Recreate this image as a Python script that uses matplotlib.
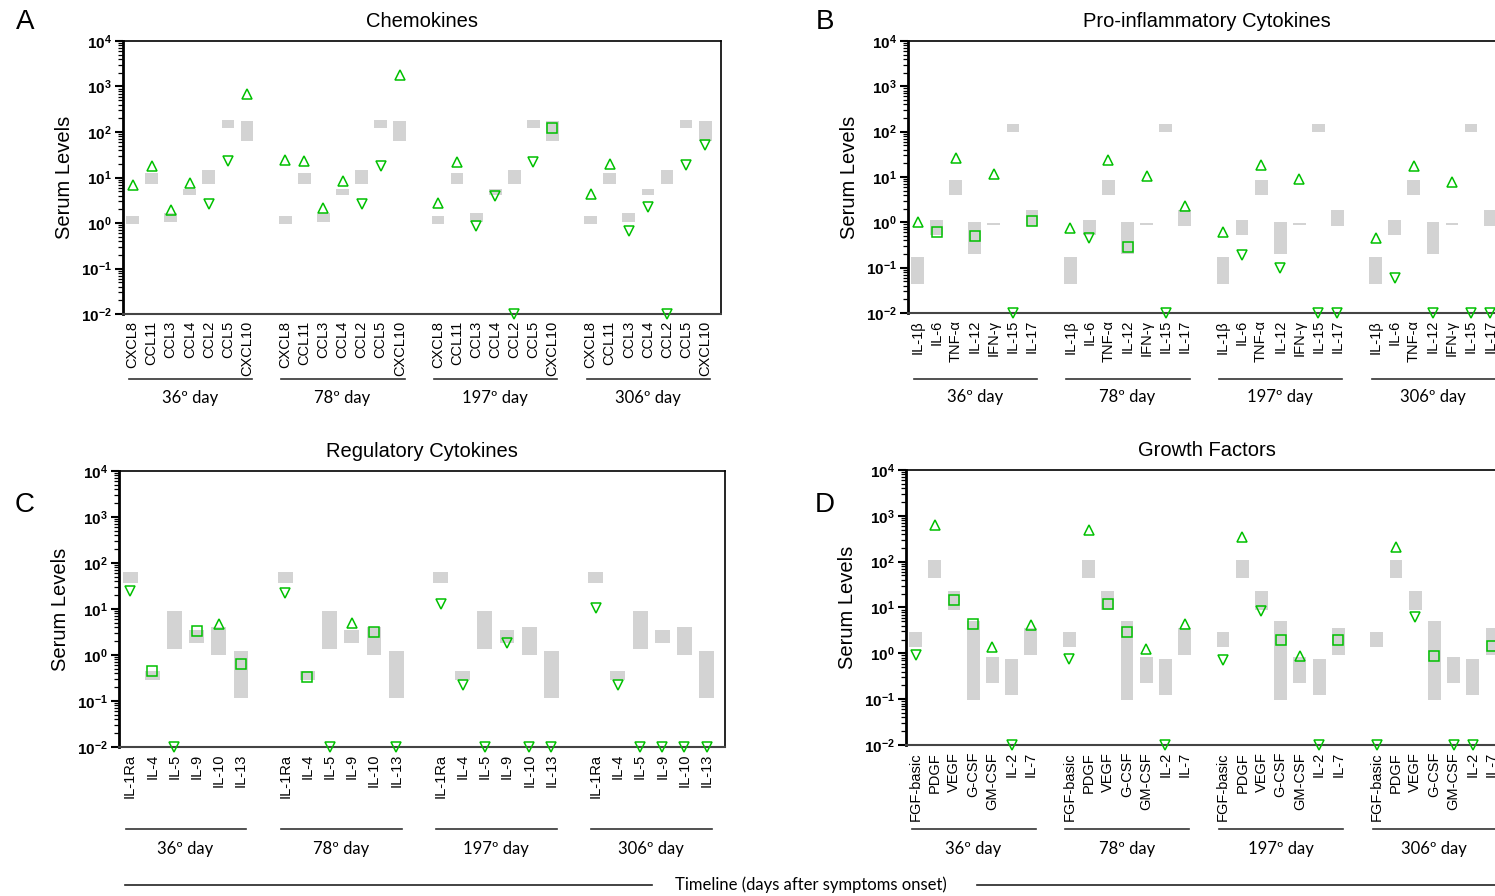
import math
import matplotlib
matplotlib.use('Agg')
import matplotlib.pyplot as plt
import matplotlib.transforms as mtransforms
from matplotlib.lines import Line2D
from matplotlib.ticker import LogLocator, FuncFormatter, NullFormatter

plt.rcParams['font.family'] = ['Liberation Sans', 'DejaVu Sans']
plt.rcParams['mathtext.fontset'] = 'custom'
plt.rcParams['mathtext.rm'] = 'Liberation Sans'
plt.rcParams['mathtext.bf'] = 'Liberation Sans:bold'

days = ['36º day', '78º day', '197º day', '306º day']

# A - chemokines (grey bar = reference range, markers = patient values)
chemokines = ['CXCL8', 'CCL11', 'CCL3', 'CCL4', 'CCL2', 'CCL5', 'CXCL10']
chemo_low = [0.95, 7.3, 1.05, 4.2, 7.3, 124, 64]
chemo_high = [1.43, 12.8, 1.63, 5.6, 14.6, 182, 174]
chemo_36 = [6.8, 17.6, 1.93, 7.4, 2.6, 22.7, 694]
chemo_78 = [23.8, 23, 2.1, 8.2, 2.6, 18.2, 1820]
chemo_197 = [2.7, 21.5, 0.85, 3.9, 0.01, 22.3, 122]
chemo_306 = [4.4, 20, 0.66, 2.2, 0.01, 18.5, 51]

# B - pro-inflammatory cytokines
pro = ['IL-1β', 'IL-6', 'TNF-α', 'IL-12', 'IFN-γ', 'IL-15', 'IL-17']
pro_low = [0.043, 0.53, 4.1, 0.2, 0.86, 96, 0.82]
pro_high = [0.17, 1.15, 8.7, 1.0, 0.98, 149, 1.9]
pro_36 = [1.0, 0.61, 25.6, 0.51, 11.8, 0.01, 1.07]
pro_78 = [0.74, 0.44, 23.6, 0.28, 10.3, 0.01, 2.3]
pro_197 = [0.62, 0.19, 18, 0.10, 8.9, 0.01, 0.01]
pro_306 = [0.44, 0.06, 17.4, 0.01, 7.6, 0.01, 0.01]

# C - regulatory cytokines
reg = ['IL-1Ra', 'IL-4', 'IL-5', 'IL-9', 'IL-10', 'IL-13']
reg_low = [36.7, 0.29, 1.35, 1.85, 1.0, 0.116]
reg_high = [62.7, 0.46, 8.9, 3.5, 4.0, 1.2]
reg_36 = [24.2, 0.44, 0.01, 3.3, 4.8, 0.64]
reg_78 = [21.9, 0.34, 0.01, 4.9, 3.2, 0.01]
reg_197 = [12.8, 0.22, 0.01, 1.8, 0.01, 0.01]
reg_306 = [10.3, 0.22, 0.01, 0.01, 0.01, 0.01]

# D - growth factors
growth = ['FGF-basic', 'PDGF', 'VEGF', 'G-CSF', 'GM-CSF', 'IL-2', 'IL-7']
growth_low = [1.37, 44, 8.8, 0.096, 0.225, 0.123, 0.92]
growth_high = [2.9, 108.6, 22.9, 5.1, 0.83, 0.75, 3.5]
growth_36 = [0.94, 641, 14.6, 4.3, 1.4, 0.01, 4.15]
growth_78 = [0.77, 480, 11.9, 2.87, 1.24, 0.01, 4.3]
growth_197 = [0.70, 351, 8.3, 1.95, 0.87, 0.01, 2.0]
growth_306 = [0.01, 205, 6.1, 0.89, 0.01, 0.01, 1.42]

W, H = 1495, 896
GREEN = '#00c000'
fig = plt.figure(figsize=(W / 100, H / 100), dpi=100)


def log_fmt(v, pos):
    return r'$\mathbf{10^{%d}}$' % int(round(math.log10(v)))


def draw_panel(box, letter, letter_xy, title, names, low, high, series, line_y, label_y):
    left, top, right, bottom = box
    ax = fig.add_axes([left / W, 1 - bottom / H, (right - left) / W, (bottom - top) / H])
    n = len(names)
    stride = n + 1
    ax.set_yscale('log')
    ax.set_ylim(1e-2, 1e4)
    ax.set_xlim(-0.5, stride * 3 + n - 1 + 0.83)
    trans = mtransforms.blended_transform_factory(ax.transData, ax.transAxes)

    ticks, labels = [], []
    for g, vals in enumerate(series):
        xs = [g * stride + i for i in range(n)]
        ax.bar(xs, [h - l for l, h in zip(low, high)], bottom=low, width=0.67,
               color='#d3d3d3', zorder=1)
        # above range -> up triangle, below -> down triangle, inside -> square
        for x, v, lo, hi in zip(xs, vals, low, high):
            m = '^' if v > hi else ('v' if v < lo else 's')
            ax.plot(x, v, marker=m, ms=7 if m != 's' else 6.5, mfc='none', mec=GREEN,
                    mew=1.1, ls='none', clip_on=False, zorder=4)
        ticks += xs
        labels += names
        ax.plot([xs[0] - 0.2, xs[-1] + 0.25], [line_y, line_y], transform=trans,
                color='#333333', lw=1.2, clip_on=False)
        ax.text((xs[0] + xs[-1]) / 2, label_y, days[g], transform=trans, ha='center',
                va='center', fontsize=12, family=['Lato', 'DejaVu Sans'])

    ax.set_xticks(ticks)
    ax.set_xticklabels(labels, rotation=90, fontsize=10.5)
    ax.tick_params(axis='x', length=0, pad=5)

    ax.yaxis.set_major_locator(LogLocator(base=10, numticks=10))
    ax.yaxis.set_minor_locator(LogLocator(base=10, subs=range(2, 10), numticks=20))
    ax.yaxis.set_major_formatter(FuncFormatter(log_fmt))
    ax.yaxis.set_minor_formatter(NullFormatter())
    ax.tick_params(axis='y', which='major', length=6, width=1.5, labelsize=11, pad=2)
    ax.tick_params(axis='y', which='minor', length=3.5, width=0.9)

    ax.spines['left'].set_linewidth(2)
    ax.spines['top'].set_linewidth(1.2)
    ax.spines['right'].set_linewidth(1.2)
    ax.spines['bottom'].set_linestyle((0, (1, 1)))
    ax.spines['bottom'].set_color('#444444')
    ax.spines['bottom'].set_linewidth(1.5)

    ax.set_ylabel('Serum Levels', fontsize=14.5)
    ax.yaxis.set_label_coords(-49 / (right - left), 0.5)
    ax.set_title(title, fontsize=14.5, pad=10)
    fig.text(letter_xy[0] / W, 1 - letter_xy[1] / H, letter, fontsize=20,
             ha='center', va='center')
    return ax


draw_panel((123, 41, 721, 314), 'A', (25, 22), 'Chemokines', chemokines,
           chemo_low, chemo_high, [chemo_36, chemo_78, chemo_197, chemo_306], -0.238, -0.308)
draw_panel((908, 41, 1506, 313), 'B', (825, 22), 'Pro-inflammatory Cytokines', pro,
           pro_low, pro_high, [pro_36, pro_78, pro_197, pro_306], -0.243, -0.31)
draw_panel((119, 471, 725, 747), 'C', (25, 505), 'Regulatory Cytokines', reg,
           reg_low, reg_high, [reg_36, reg_78, reg_197, reg_306], -0.297, -0.37)
draw_panel((906, 470, 1508, 745), 'D', (825, 505), 'Growth Factors', growth,
           growth_low, growth_high, [growth_36, growth_78, growth_197, growth_306], -0.305, -0.378)

# timeline
ty = 1 - 885 / H
fig.add_artist(Line2D([125 / W, 652 / W], [ty, ty], color='#222222', lw=1.2))
fig.add_artist(Line2D([977 / W, 1.0], [ty, ty], color='#222222', lw=1.2))
fig.text(811 / W, ty, 'Timeline (days after symptoms onset)', ha='center', va='center',
         fontsize=12, family=['Lato', 'DejaVu Sans'])

fig.savefig('out.png', dpi=100)
